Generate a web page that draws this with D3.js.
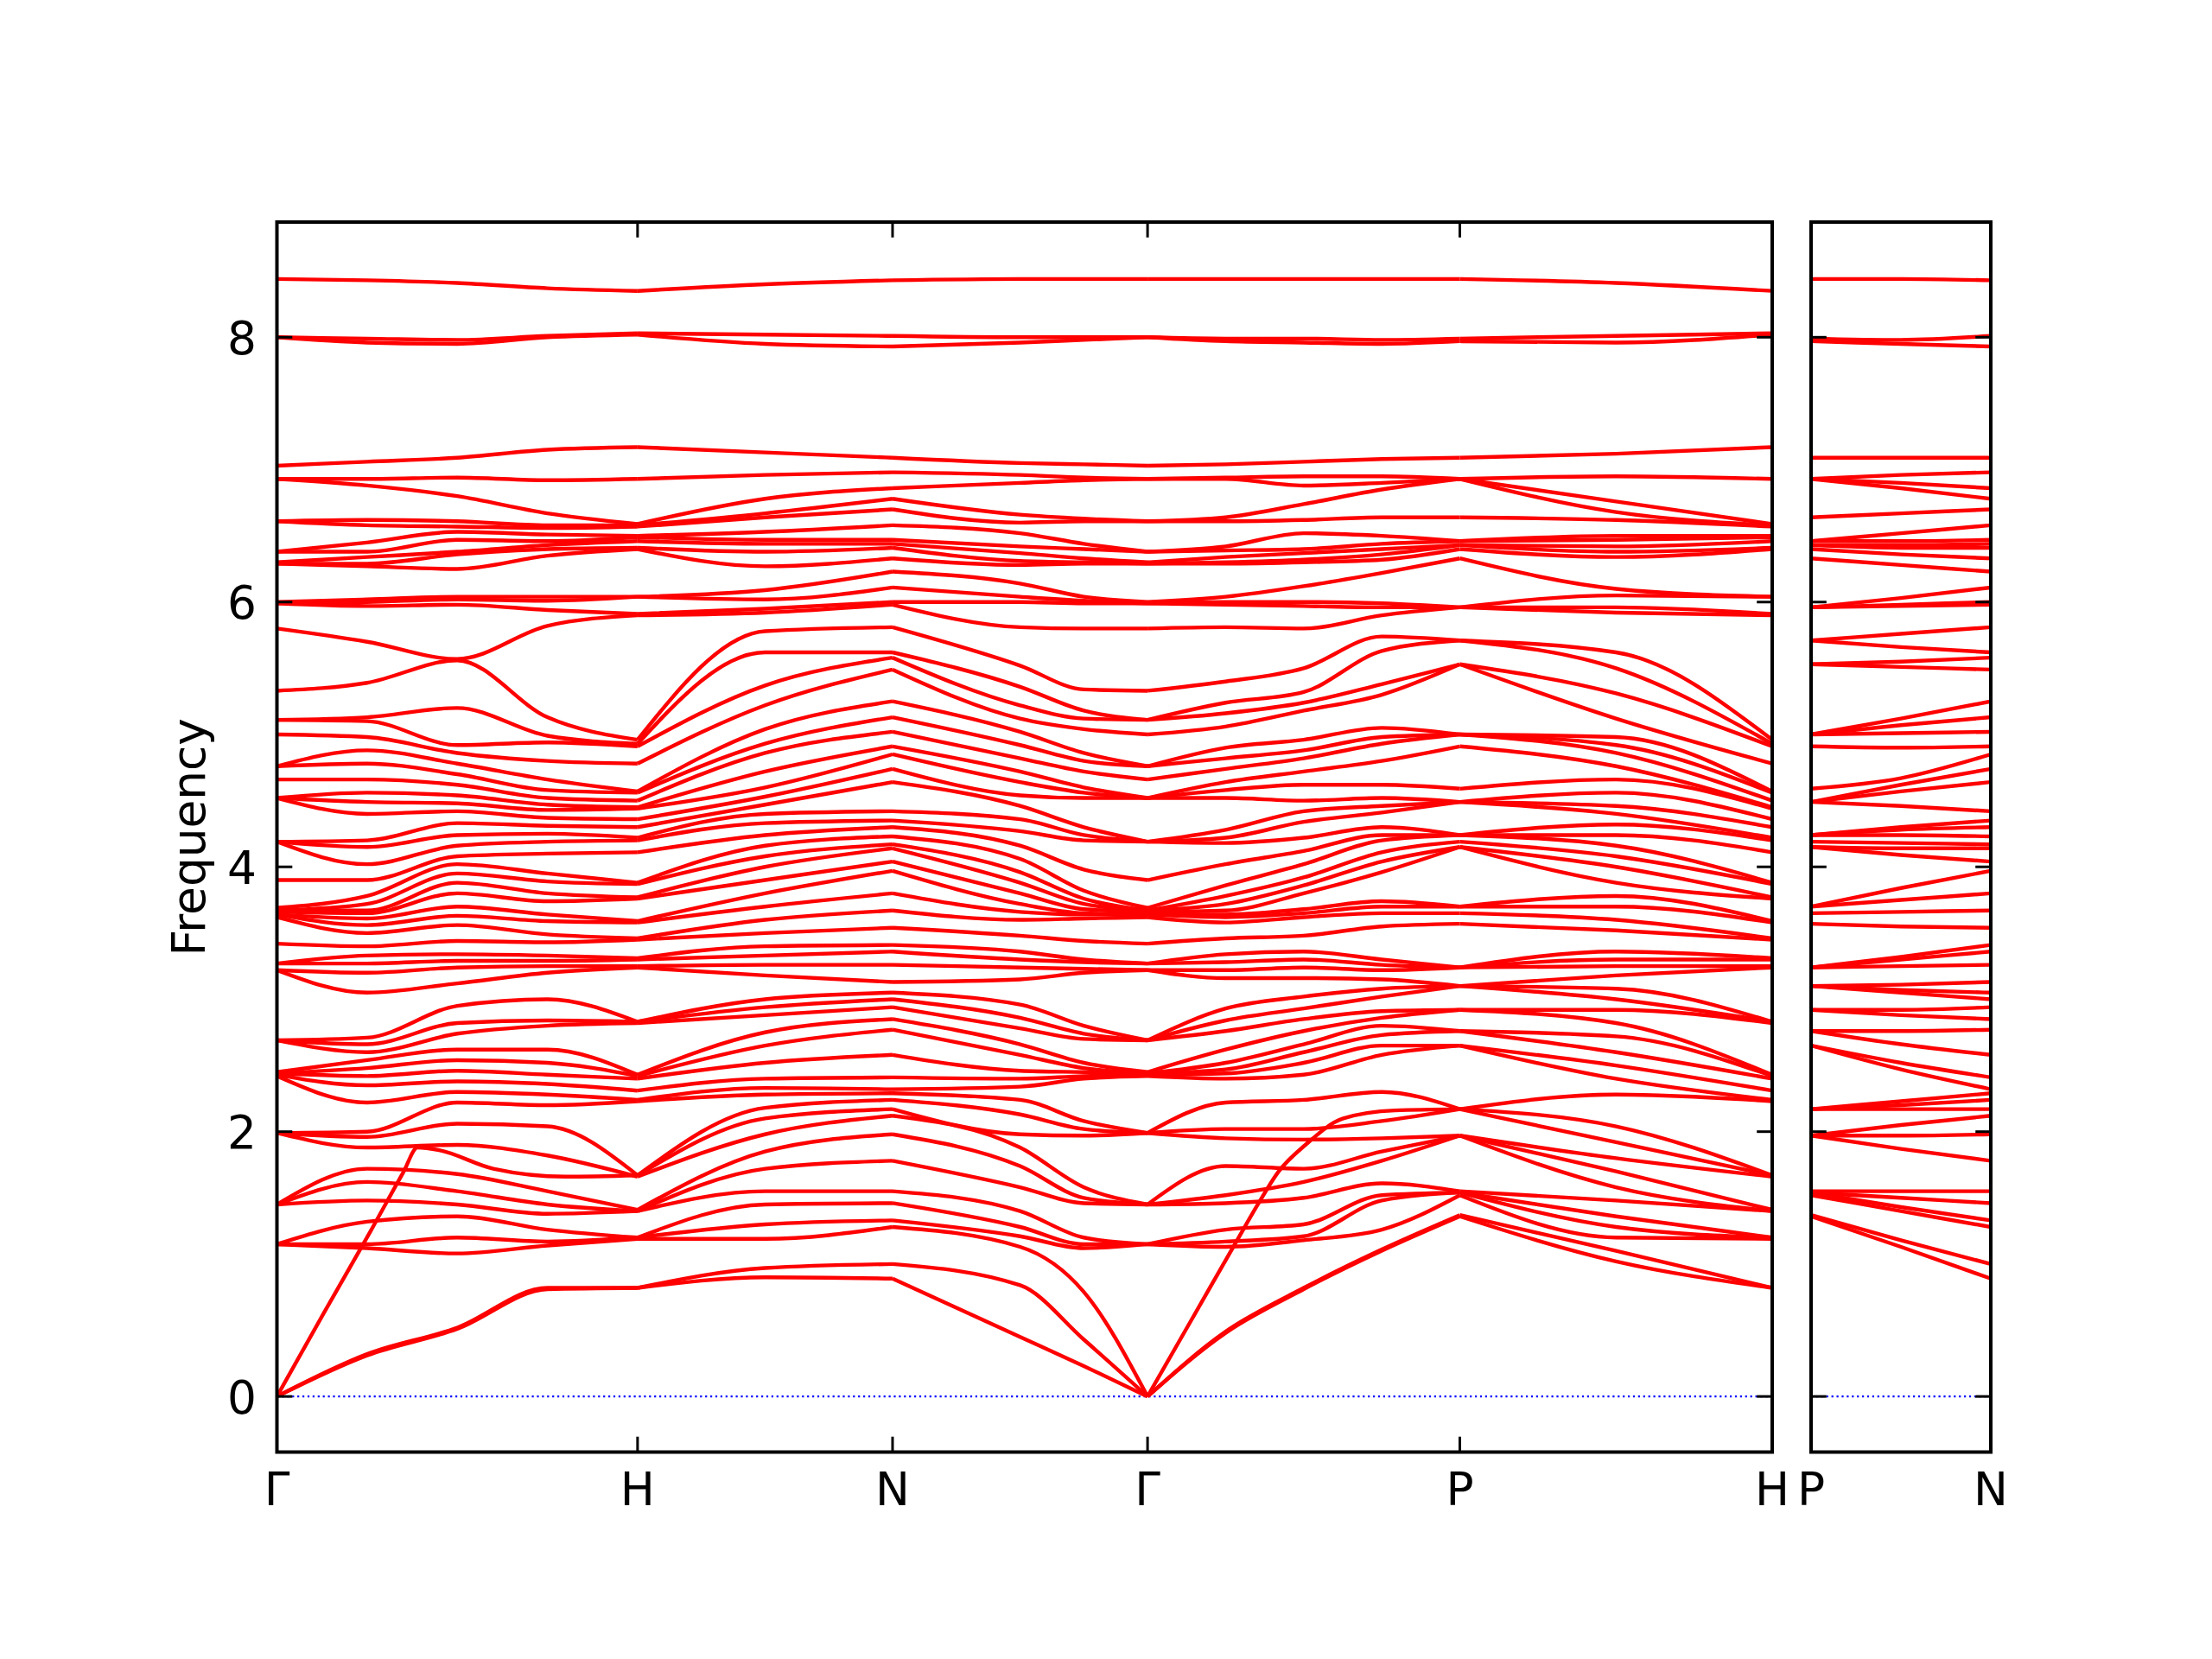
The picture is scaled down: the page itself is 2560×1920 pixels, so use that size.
<!DOCTYPE html>
<html lang="en">
<head>
  <meta charset="utf-8">
  <title>Phonon band structure</title>
  <script src="https://cdn.jsdelivr.net/npm/d3@7/dist/d3.min.js"></script>
  <style>
    body { margin: 0; background: #fff; }
    svg text { font-family: "DejaVu Sans", sans-serif; fill: #000; }
  </style>
</head>
<body>
<svg id="chart" width="2560" height="1920"></svg>
<script>
// frequencies read at each sampled q-point, 63 branches, highest first
const gammaPt = [8.44, 8.00, 8.00, 7.03, 6.93, 6.93, 6.61, 6.61, 6.38, 6.38,
  6.30, 6.29, 6.29, 6.00, 5.99, 5.99, 5.80, 5.33, 5.11, 5.11,
  5.00, 4.76, 4.76, 4.66, 4.52, 4.52, 4.52, 4.19, 4.19, 4.19,
  3.90, 3.69, 3.67, 3.67, 3.66, 3.64, 3.64, 3.62, 3.42, 3.27,
  3.27, 3.22, 3.22, 2.69, 2.69, 2.69, 2.45, 2.44, 2.44, 2.43,
  2.42, 1.99, 1.99, 1.99, 1.45, 1.45, 1.45, 1.15, 1.15, 1.15,
  0, 0, 0];
const gh1 = [8.43, 7.99, 7.96, 7.06, 6.93, 6.88, 6.62, 6.58, 6.45, 6.38, 6.34, 6.29, 6.27, 6.02, 6.00, 5.97, 5.70,
  5.39, 5.13, 5.10, 4.98, 4.88, 4.78, 4.66, 4.56, 4.49, 4.40, 4.20, 4.15, 4.02, 3.90,
  3.78, 3.72, 3.67, 3.65, 3.61, 3.56, 3.50, 3.40, 3.33, 3.27, 3.20, 3.05,
  2.71, 2.66, 2.60, 2.54, 2.48, 2.42, 2.35, 2.22,
  2.00, 1.96, 1.88, 1.72, 1.62, 1.48, 1.32, 1.22, 1.15, 1.12, 0.32, 0.31];
const gh2 = [8.41, 7.98, 7.95, 7.09, 6.94, 6.80, 6.61, 6.57, 6.53, 6.47, 6.38, 6.36, 6.25, 6.04, 6.02, 5.98, 5.57,
  5.56, 5.20, 4.92, 4.86, 4.78, 4.70, 4.62, 4.54, 4.48, 4.42, 4.33, 4.24, 4.16, 4.08,
  4.02, 3.95, 3.88, 3.80, 3.70, 3.63, 3.56, 3.44, 3.34, 3.29, 3.24, 3.12,
  2.95, 2.82, 2.74, 2.62, 2.54, 2.46, 2.38, 2.30, 2.22,
  2.06, 1.90, 1.80, 1.68, 1.55, 1.45, 1.36, 1.20, 1.08, 0.52, 0.51];
const gh3 = [8.37, 8.01, 8.00, 7.15, 6.92, 6.67, 6.58, 6.56, 6.51, 6.46, 6.43, 6.40, 6.35, 6.04, 6.01, 5.94, 5.82,
  5.13, 4.99, 4.94, 4.80, 4.66, 4.58, 4.52, 4.47, 4.43, 4.37, 4.31, 4.25, 4.19, 4.10,
  3.95, 3.89, 3.80, 3.74, 3.64, 3.59, 3.49, 3.43, 3.33, 3.29, 3.25, 3.20,
  3.00, 2.84, 2.80, 2.62, 2.52, 2.43, 2.36, 2.28, 2.20,
  2.04, 1.82, 1.70, 1.55, 1.45, 1.38, 1.26, 1.17, 1.14, 0.82, 0.81];
const pointH = [8.35, 8.03, 8.02, 7.17, 6.93, 6.59, 6.58, 6.57, 6.50, 6.49, 6.46, 6.41, 6.40, 6.04, 6.04, 5.91, 5.90,
  4.96, 4.93, 4.91, 4.78, 4.57, 4.56, 4.50, 4.45, 4.44, 4.36, 4.30, 4.22, 4.20, 4.11,
  3.88, 3.87, 3.77, 3.76, 3.59, 3.58, 3.46, 3.45, 3.31, 3.30, 3.25, 3.24,
  2.83, 2.83, 2.82, 2.43, 2.42, 2.40, 2.31, 2.24, 2.23,
  1.67, 1.67, 1.66, 1.41, 1.40, 1.40, 1.20, 1.20, 1.19, 0.82, 0.82];
const hnMid = [8.40, 8.02, 7.95, 7.13, 6.96, 6.78, 6.67, 6.64, 6.53, 6.47, 6.44, 6.38, 6.27, 6.09, 6.02, 5.95, 5.92,
  5.78, 5.62, 5.37, 5.22, 5.04, 4.93, 4.86, 4.72, 4.60,
  4.53, 4.47, 4.40, 4.33, 4.24, 4.16, 4.08, 4.00,
  3.90, 3.80, 3.70, 3.60, 3.50, 3.40, 3.33, 3.26, 3.18,
  3.00, 2.94, 2.88, 2.75, 2.65, 2.52, 2.40, 2.33, 2.28,
  2.18, 2.10, 1.98, 1.85, 1.72, 1.55, 1.45, 1.30, 1.19, 0.97, 0.90];
const pointN = [8.43, 8.01, 7.93, 7.09, 6.98, 6.86, 6.78, 6.70, 6.58, 6.47,
  6.44, 6.41, 6.33, 6.23, 6.11, 6.00, 5.98, 5.81, 5.62, 5.58,
  5.49, 5.25, 5.13, 5.02, 4.91, 4.85, 4.74, 4.64, 4.42, 4.35,
  4.30, 4.23, 4.17, 4.14, 4.04, 3.97, 3.80, 3.67, 3.54, 3.41,
  3.36, 3.26, 3.13, 3.05, 3.00, 2.94, 2.85, 2.77, 2.58, 2.41,
  2.32, 2.29, 2.24, 2.17, 2.12, 1.98, 1.78, 1.55, 1.46, 1.33,
  1.28, 1.00, 0.89];
const ngMid = [8.44, 8.00, 7.96, 7.05, 6.96, 6.90, 6.66, 6.60, 6.52, 6.42, 6.37, 6.31, 6.28, 6.14, 6.04, 6.00, 5.81,
  5.52, 5.36, 5.22, 5.12, 5.02, 4.92, 4.82, 4.72, 4.64, 4.54, 4.46, 4.36, 4.27, 4.16,
  4.06, 3.96, 3.88, 3.80, 3.72, 3.66, 3.60, 3.48, 3.36, 3.30, 3.24, 3.15,
  2.96, 2.86, 2.78, 2.66, 2.58, 2.46, 2.40, 2.34,
  2.24, 2.13, 1.98, 1.88, 1.74, 1.58, 1.40, 1.28, 1.21, 1.13, 0.84, 0.45];
const ng2 = [8.44, 8.00, 7.98, 7.04, 6.94, 6.92, 6.63, 6.61, 6.44, 6.40, 6.33, 6.30, 6.29, 6.04, 6.01, 5.99, 5.80,
  5.34, 5.18, 5.12, 5.04, 4.86, 4.80, 4.72, 4.60, 4.56, 4.52, 4.30, 4.24, 4.20, 3.98,
  3.82, 3.76, 3.72, 3.68, 3.65, 3.64, 3.61, 3.44, 3.30, 3.28, 3.23, 3.20,
  2.80, 2.74, 2.70, 2.52, 2.48, 2.45, 2.42, 2.40,
  2.08, 2.02, 1.97, 1.58, 1.50, 1.46, 1.20, 1.15, 1.12, 0.79, 0.43, 0.23];
const gp1 = [8.44, 7.99, 7.97, 7.04, 6.94, 6.93, 6.64, 6.61, 6.42, 6.39, 6.34, 6.30, 6.29, 6.04, 6.00, 5.98, 5.81,
  5.40, 5.24, 5.16, 5.06, 4.90, 4.82, 4.74, 4.64, 4.58, 4.52, 4.28, 4.22, 4.18, 4.02,
  3.86, 3.78, 3.72, 3.67, 3.64, 3.62, 3.58, 3.46, 3.34, 3.28, 3.22, 3.16,
  2.93, 2.84, 2.76, 2.62, 2.52, 2.47, 2.44, 2.40,
  2.22, 2.02, 1.95, 1.74, 1.52, 1.46, 1.26, 1.17, 1.13, 1.03, 0.49, 0.48];
const gp2 = [8.44, 7.99, 7.96, 7.06, 6.95, 6.88, 6.74, 6.62, 6.52, 6.40, 6.37, 6.32, 6.30, 6.12, 6.00, 5.97, 5.80,
  5.50, 5.32, 5.24, 5.18, 4.96, 4.88, 4.82, 4.72, 4.62, 4.50, 4.42, 4.34, 4.22, 4.12,
  4.02, 3.92, 3.86, 3.80, 3.68, 3.65, 3.62, 3.48, 3.36, 3.30, 3.24, 3.16,
  3.02, 2.93, 2.85, 2.76, 2.66, 2.60, 2.52, 2.43,
  2.24, 2.02, 1.94, 1.84, 1.72, 1.62, 1.50, 1.30, 1.21, 1.18, 0.82, 0.81];
const gp3 = [8.44, 7.98, 7.95, 7.08, 6.95, 6.90, 6.85, 6.64, 6.50, 6.44, 6.40, 6.36, 6.32, 6.22, 5.99, 5.96, 5.90,
  5.74, 5.63, 5.38, 5.30, 5.05, 4.98, 4.93, 4.80, 4.62, 4.52, 4.46, 4.41, 4.30, 4.24,
  4.20, 4.11, 4.04, 3.96, 3.74, 3.70, 3.65, 3.55, 3.30, 3.26, 3.22, 3.15,
  3.08, 3.02, 2.91, 2.86, 2.80, 2.73, 2.65, 2.58,
  2.30, 2.15, 2.08, 1.95, 1.85, 1.78, 1.61, 1.52, 1.48, 1.26, 1.11, 1.10];
const pointP = [8.44, 7.99, 7.97, 7.09, 6.93, 6.93, 6.93, 6.64, 6.46, 6.46,
  6.43, 6.43, 6.40, 6.33, 5.96, 5.96, 5.96, 5.71, 5.71, 5.53,
  5.53, 5.00, 5.00, 5.00, 4.91, 4.59, 4.49, 4.49, 4.49, 4.24,
  4.24, 4.24, 4.19, 4.15, 4.15, 3.70, 3.70, 3.65, 3.57, 3.24,
  3.24, 3.24, 3.10, 3.10, 3.10, 2.92, 2.92, 2.76, 2.76, 2.65,
  2.65, 2.17, 2.17, 2.17, 1.97, 1.97, 1.97, 1.55, 1.54, 1.54,
  1.52, 1.37, 1.36];
const phMid = [8.41, 8.01, 7.96, 7.12, 6.95, 6.76, 6.68, 6.62, 6.50, 6.47, 6.42, 6.38, 6.34, 6.10, 6.05, 5.96, 5.92,
  5.62, 5.50, 5.31, 5.12, 4.98, 4.92, 4.86, 4.76, 4.66, 4.56, 4.46, 4.40, 4.32, 4.24, 4.16, 4.08, 4.00, 3.88,
  3.78, 3.70, 3.60, 3.52, 3.36, 3.30, 3.25, 3.18, 3.08, 3.00, 2.92, 2.82, 2.72, 2.60, 2.50, 2.40,
  2.28, 2.04, 1.92, 1.80, 1.70, 1.58, 1.48, 1.36, 1.28, 1.20, 1.10, 1.02];
const pnMid = [8.44, 7.98, 7.95, 7.09, 6.96, 6.90, 6.86, 6.67, 6.52, 6.46, 6.43, 6.41, 6.36, 6.28, 6.03, 5.98, 5.97,
  5.76, 5.66, 5.55, 5.51, 5.12, 5.07, 5.01, 4.90, 4.67, 4.62, 4.57, 4.46, 4.30, 4.28, 4.24, 4.18, 4.14, 4.09,
  3.84, 3.75, 3.66, 3.55, 3.32, 3.30, 3.25, 3.11, 3.07, 3.05, 2.92, 2.88, 2.76, 2.66, 2.52, 2.47,
  2.23, 2.20, 2.17, 2.05, 1.97, 1.87, 1.55, 1.50, 1.43, 1.40, 1.18, 1.13];

// longitudinal acoustic branch leaving Gamma, traced on its own where it cuts across other bands
const laGHq = [0, 0.13, 0.26, 0.35, 0.39, 0.45, 0.6, 0.8, 1];
const laGH = [0, 0.63, 1.25, 1.69, 1.88, 1.86, 1.72, 1.66, 1.67];
const laGHdrop = [0, 1.22, 1.80, 1.70, 1.67];   // its value inside each sampled column
const laGPq = [2.4142, 2.5374, 2.6605, 2.72, 2.778, 2.852, 2.957, 3.1, 3.2802];
const laGP = [0, 0.585, 1.17, 1.45, 1.70, 1.90, 2.10, 2.16, 2.17];
const laGPdrop = [0, 1.03, 1.84, 2.15, 2.17];

// path distance (2pi/a) of every sampled column, one list per path segment
const segMain = [
  {q: [0, 0.25, 0.5, 0.75, 1], cols: [gammaPt, gh1, gh2, gh3, pointH], la: {q: laGHq, f: laGH, drop: laGHdrop}},
  {q: [1, 1.3536, 1.7071], cols: [pointH, hnMid, pointN]},
  {q: [1.7071, 2.0607, 2.2374, 2.4142], cols: [pointN, ngMid, ng2, gammaPt]},
  {q: [2.4142, 2.6307, 2.8472, 3.0637, 3.2802], cols: [gammaPt, gp1, gp2, gp3, pointP], la: {q: laGPq, f: laGP, drop: laGPdrop}},
  {q: [3.2802, 3.7133, 4.1463], cols: [pointP, phMid, pointH]}
];
const segSide = [
  {q: [0, 0.25, 0.5], cols: [pointP, pnMid, pointN]}
];

const tickPosMain = [0, 1, 1.7071, 2.4142, 3.2802, 4.1463];
const tickLabMain = ["Γ", "H", "N", "Γ", "P", "H"];
const tickPosSide = [0, 0.5];
const tickLabSide = ["P", "N"];
const yTicks = [0, 2, 4, 6, 8];

/////////////////////
// layout
var svg = d3.select("#chart");
var plotTop = 257, plotBottom = 1680.5;
var tickLen = 17.8, fontSize = 53.3;

var y = d3.scaleLinear()
    .domain([-0.42, 8.87])
    .range([plotBottom, plotTop]);

var panels = [
  {x0: 320.5, x1: 2051, qMax: 4.1463, segs: segMain, ticks: tickPosMain, labels: tickLabMain, yLabels: true},
  {x0: 2096,  x1: 2304, qMax: 0.5,    segs: segSide, ticks: tickPosSide, labels: tickLabSide, yLabels: false}
];

panels.forEach(function(p, k) {
  var x = d3.scaleLinear()
      .domain([0, p.qMax])
      .range([p.x0, p.x1]);

  svg.append("clipPath").attr("id", "clip" + k)
    .append("rect")
      .attr("x", p.x0).attr("y", plotTop)
      .attr("width", p.x1 - p.x0).attr("height", plotBottom - plotTop);

  var g = svg.append("g").attr("clip-path", "url(#clip" + k + ")");

  // zero line
  g.append("line")
      .attr("x1", p.x0).attr("x2", p.x1)
      .attr("y1", y(0)).attr("y2", y(0))
      .attr("stroke", "#0000ff")
      .attr("stroke-width", 2.2)
      .attr("stroke-dasharray", "2.2,3.7");

  var line = d3.line()
      .x(function(d) { return x(d[0]); })
      .y(function(d) { return y(d[1]); })
      .curve(d3.curveMonotoneX);

  // branches: i-th frequency of every column, drawn segment by segment
  p.segs.forEach(function(s) {
    var sorted = s.cols.map(function(c, j) {
      var c2 = c.slice();
      if (s.la) {
        // take the separately traced LA branch out of the column
        var drop = s.la.drop[j];
        c2.splice(d3.minIndex(c2, function(v) { return Math.abs(v - drop); }), 1);
      }
      return c2.sort(function(a, b) { return b - a; });
    });
    var nBands = d3.min(sorted, function(c) { return c.length; });
    var bands = d3.range(nBands).map(function(i) {
      return s.q.map(function(qq, j) { return [qq, sorted[j][i]]; });
    });
    if (s.la) {
      bands.push(s.la.q.map(function(qq, j) { return [qq, s.la.f[j]]; }));
    }

    g.append("g").selectAll("path")
      .data(bands)
      .enter().append("path")
        .attr("d", line)
        .attr("fill", "none")
        .attr("stroke", "#ff0000")
        .attr("stroke-width", 4.4)
        .attr("stroke-linejoin", "round");
  });

  // ticks pointing inward on all sides
  var ax = svg.append("g").attr("stroke", "#000").attr("stroke-width", 3);
  yTicks.forEach(function(v) {
    ax.append("line").attr("x1", p.x0).attr("x2", p.x0 + tickLen).attr("y1", y(v)).attr("y2", y(v));
    ax.append("line").attr("x1", p.x1).attr("x2", p.x1 - tickLen).attr("y1", y(v)).attr("y2", y(v));
  });
  p.ticks.forEach(function(t) {
    ax.append("line").attr("x1", x(t)).attr("x2", x(t)).attr("y1", plotBottom).attr("y2", plotBottom - tickLen);
    ax.append("line").attr("x1", x(t)).attr("x2", x(t)).attr("y1", plotTop).attr("y2", plotTop + tickLen);
  });

  // frame
  svg.append("rect")
      .attr("x", p.x0).attr("y", plotTop)
      .attr("width", p.x1 - p.x0).attr("height", plotBottom - plotTop)
      .attr("fill", "none")
      .attr("stroke", "#000")
      .attr("stroke-width", 4);

  // labels
  p.ticks.forEach(function(t, i) {
    svg.append("text")
        .attr("x", x(t)).attr("y", 1742)
        .attr("text-anchor", "middle")
        .attr("font-size", fontSize)
        .text(p.labels[i]);
  });
  if (p.yLabels) {
    yTicks.forEach(function(v) {
      svg.append("text")
          .attr("x", 297).attr("y", y(v) + 19.4)
          .attr("text-anchor", "end")
          .attr("font-size", fontSize)
          .text(v);
    });
  }
});

svg.append("text")
    .attr("transform", "translate(237," + ((plotTop + plotBottom) / 2) + ") rotate(-90)")
    .attr("text-anchor", "middle")
    .attr("font-size", fontSize)
    .text("Frequency");
</script>
</body>
</html>
